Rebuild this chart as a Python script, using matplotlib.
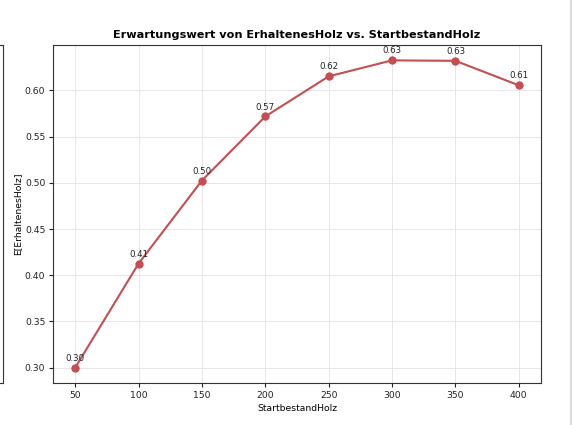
import matplotlib
matplotlib.use('Agg')
import matplotlib.pyplot as plt

startbestand = [50, 100, 150, 200, 250, 300, 350, 400]
erwartungswert = [0.300, 0.4126, 0.5025, 0.5718, 0.6152, 0.6325, 0.6320, 0.6055]

LINE_COLOR = '#c44e52'

fig = plt.figure(figsize=(5.72, 4.25), dpi=100)

# Rest einer Nachbar-Achse am linken Rand (Ausschnitt)
ax_left = fig.add_axes([-0.5, 42 / 425, 0.5 + 3 / 572, 1 - 87 / 425])
ax_left.set_xticks([])
ax_left.set_yticks([])
for sp in ax_left.spines.values():
    sp.set_color('#333333')

ax = fig.add_axes([53 / 572, 42 / 425, 488 / 572, 1 - 87 / 425])
ax.plot(startbestand, erwartungswert, marker='o', color=LINE_COLOR,
        linewidth=1.5, markersize=5)
for x, y in zip(startbestand, erwartungswert):
    ax.annotate(f'{y:.2f}', (x, y), textcoords='offset points', xytext=(0, 5),
                ha='center', fontsize=6.2, color='#222222')

ax.set_title('Erwartungswert von ErhaltenesHolz vs. StartbestandHolz',
             fontsize=8.1, fontweight='bold', pad=5)
ax.set_xlabel('StartbestandHolz', fontsize=6.7, labelpad=3)
ax.set_ylabel('E[ErhaltenesHolz]', fontsize=6.7, labelpad=2)
ax.tick_params(labelsize=6.7, colors='#222222', length=3, pad=2.5)
ax.grid(True, color='#e6e6e6', linewidth=0.7)
ax.set_axisbelow(True)
for sp in ax.spines.values():
    sp.set_color('#333333')

# grauer Streifen am rechten Rand
fig.patches.append(plt.Rectangle((570 / 572, 0), 2 / 572, 1, transform=fig.transFigure,
                                 color='#dddddd', zorder=0))

fig.savefig('out.png', dpi=100)
